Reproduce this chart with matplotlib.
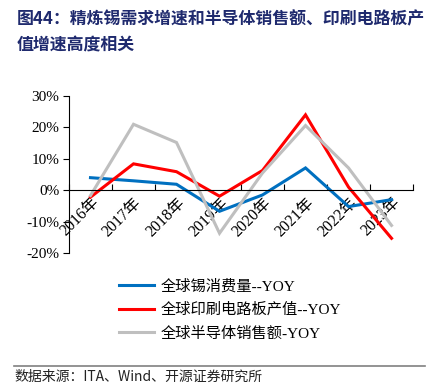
import matplotlib
matplotlib.use("Agg")
import matplotlib.pyplot as plt
import numpy as np

years = ["2016年", "2017年", "2018年", "2019年", "2020年", "2021年", "2022年", "2023年"]
tin_yoy = [4.0, 3.0, 1.9, -6.7, -1.5, 7.1, -5.2, -3.0]
pcb_yoy = [-2.2, 8.4, 5.9, -1.9, 6.3, 24.0, 1.0, -15.3]
semi_yoy = [-1.7, 21.0, 15.2, -13.7, 5.5, 20.6, 7.1, -11.2]
series_names = ["全球锡消费量--YOY", "全球印刷电路板产值--YOY", "全球半导体销售额-YOY"]
y_ticks = [-20, -10, 0, 10, 20, 30]

SERIF = ["Liberation Serif", "Noto Sans CJK SC"]
TITLE_COLOR = "#1F2A6E"

fig = plt.figure(figsize=(4.38, 3.84), dpi=100)
ax = fig.add_axes([0.1575, 0.341, 0.7855, 0.409])

x = np.arange(len(years)) + 0.5
colors = ["#0070C0", "#FF0000", "#BFBFBF"]
lines = []
for vals, c, name in zip([tin_yoy, pcb_yoy, semi_yoy], colors, series_names):
    ln, = ax.plot(x, vals, color=c, lw=2.2, label=name, solid_joinstyle="miter")
    lines.append(ln)

ax.set_xlim(0, len(years))
ax.set_ylim(-20, 30)
ax.set_yticks(y_ticks)
ax.set_yticklabels([f"{v}%" for v in y_ticks], family=SERIF, fontsize=11)
ax.tick_params(axis="y", direction="out", length=4, width=0.8, pad=3)

ax.spines["top"].set_visible(False)
ax.spines["right"].set_visible(False)
ax.spines["bottom"].set_position(("data", 0))
ax.spines["left"].set_linewidth(0.8)
ax.spines["bottom"].set_linewidth(0.8)

ax.set_xticks(np.arange(len(years) + 1))
ax.set_xticklabels([])
ax.tick_params(axis="x", which="major", direction="in", length=4, width=0.8)
ax.set_xticks(x, minor=True)
ax.set_xticklabels(years, minor=True, rotation=45, ha="right", rotation_mode="anchor",
                   family=SERIF, fontsize=11.5)
ax.tick_params(axis="x", which="minor", length=0, pad=3)

fig.text(0.038, 0.972, "图44：精炼锡需求增速和半导体销售额、印刷电路板产", fontsize=12.2,
         fontweight="bold", color=TITLE_COLOR, family="Noto Sans CJK SC", va="top")
fig.text(0.038, 0.905, "值增速高度相关", fontsize=12.2,
         fontweight="bold", color=TITLE_COLOR, family="Noto Sans CJK SC", va="top")

leg = fig.legend(handles=lines, loc="upper left", bbox_to_anchor=(0.258, 0.29),
                 frameon=False, prop={"family": SERIF, "size": 11},
                 handlelength=2.3, handletextpad=0.4, labelspacing=0.62, borderaxespad=0)

fig.add_artist(plt.Line2D([0.032, 0.97], [0.047, 0.047], color="#808080", lw=1.2,
                          transform=fig.transFigure))
fig.text(0.032, 0.0, "数据来源：ITA、Wind、开源证券研究所", fontsize=10,
         family="Noto Sans CJK SC", color="#222222", va="bottom")

fig.savefig("out.png", dpi=100)
